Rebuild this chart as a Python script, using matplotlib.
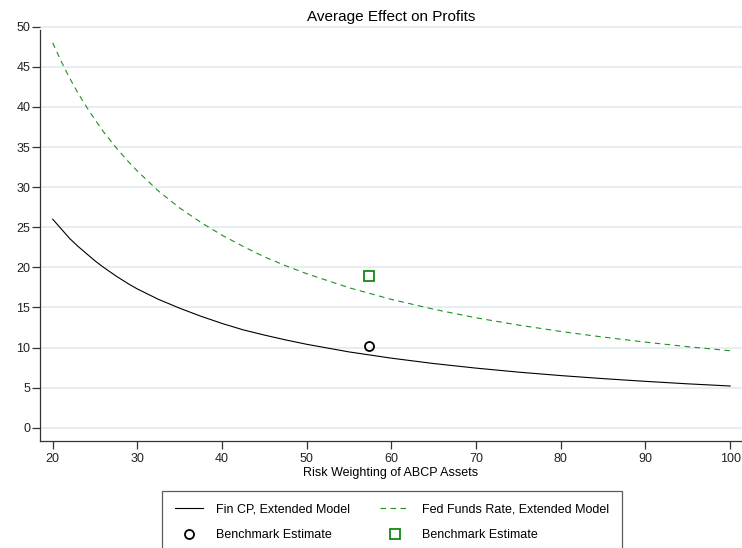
import matplotlib
matplotlib.use('Agg')
import matplotlib.pyplot as plt

# risk weighting grid
risk_weight = [20, 21, 22, 23, 24, 25, 26, 27.5, 29, 30, 32.5, 35, 37.5, 40, 42.5, 45,
               47.5, 50, 55, 60, 65, 70, 75, 80, 85, 90, 95, 100]

# Fin CP, extended model (solid black)
fin_cp = [26.0, 24.8, 23.6, 22.6, 21.7, 20.8, 20.0, 18.9, 17.9, 17.3, 16.0, 14.9, 13.9,
          13.0, 12.2, 11.55, 10.95, 10.4, 9.45, 8.67, 8.0, 7.43, 6.93, 6.5, 6.12, 5.78,
          5.47, 5.2]

# Fed funds rate, extended model (dashed green)
fed_funds = [48.0, 45.7, 43.6, 41.7, 40.0, 38.4, 36.9, 34.9, 33.1, 32.0, 29.5, 27.4,
             25.6, 24.0, 22.6, 21.3, 20.2, 19.2, 17.45, 16.0, 14.77, 13.7, 12.8, 12.0,
             11.3, 10.67, 10.1, 9.6]

# benchmark estimates
bench_x = [57.3]
bench_fin_cp = [10.2]
bench_fed_funds = [18.9]

xticks = [20, 30, 40, 50, 60, 70, 80, 90, 100]
yticks = [0, 5, 10, 15, 20, 25, 30, 35, 40, 45, 50]

plt.rcParams['font.family'] = ['Liberation Sans', 'DejaVu Sans']

green = '#1f8f1f'

fig = plt.figure(figsize=(7.42, 5.48), dpi=100)
ax = fig.add_axes([0.0539, 0.1958, 0.9461, 0.7613])

ax.plot(risk_weight, fin_cp, color='black', lw=0.8, label='Fin CP, Extended Model')
ax.plot(risk_weight, fed_funds, color=green, lw=0.8, dashes=(5, 4),
        label='Fed Funds Rate, Extended Model')
ax.plot(bench_x, bench_fin_cp, ls='none', marker='o', ms=6.5, mfc='none',
        mec='black', mew=1.3, label='Benchmark Estimate')
ax.plot(bench_x, bench_fed_funds, ls='none', marker='s', ms=6.5, mfc='none',
        mec='#108a10', mew=1.3, label='Benchmark Estimate')

ax.set_xlim(18.5, 101.4)
ax.set_ylim(-1.62, 50.4)
ax.set_xticks(xticks)
ax.set_yticks(yticks)
ax.grid(axis='y', color='#e4edf1', lw=1.3)
ax.set_axisbelow(True)

for s in ['top', 'right']:
    ax.spines[s].set_visible(False)
ax.spines['left'].set_bounds(-1.62, 49.6)
for s in ['left', 'bottom']:
    ax.spines[s].set_color('#333333')
    ax.spines[s].set_linewidth(0.9)

ax.tick_params(axis='both', labelsize=9, length=5.5, width=0.9, color='#333333',
               labelcolor='#222222')
ax.tick_params(axis='y', pad=1.5)
ax.tick_params(axis='x', pad=3)

ax.set_xlabel('Risk Weighting of ABCP Assets', fontsize=9, labelpad=1.5)
ax.set_title('Average Effect on Profits', fontsize=11, pad=0.5)

h, l = ax.get_legend_handles_labels()
order = [0, 2, 1, 3]
leg = fig.legend([h[i] for i in order], [l[i] for i in order], ncol=2,
                 loc='upper left', bbox_to_anchor=(162 / 742, 1 - 491 / 548),
                 fontsize=9, frameon=True, fancybox=False, edgecolor='#333333',
                 handlelength=2.3, handletextpad=1.05, columnspacing=2.4,
                 labelspacing=1.1, borderpad=1.0, borderaxespad=0)
leg.get_frame().set_linewidth(0.9)

fig.savefig('out.png', dpi=100)
